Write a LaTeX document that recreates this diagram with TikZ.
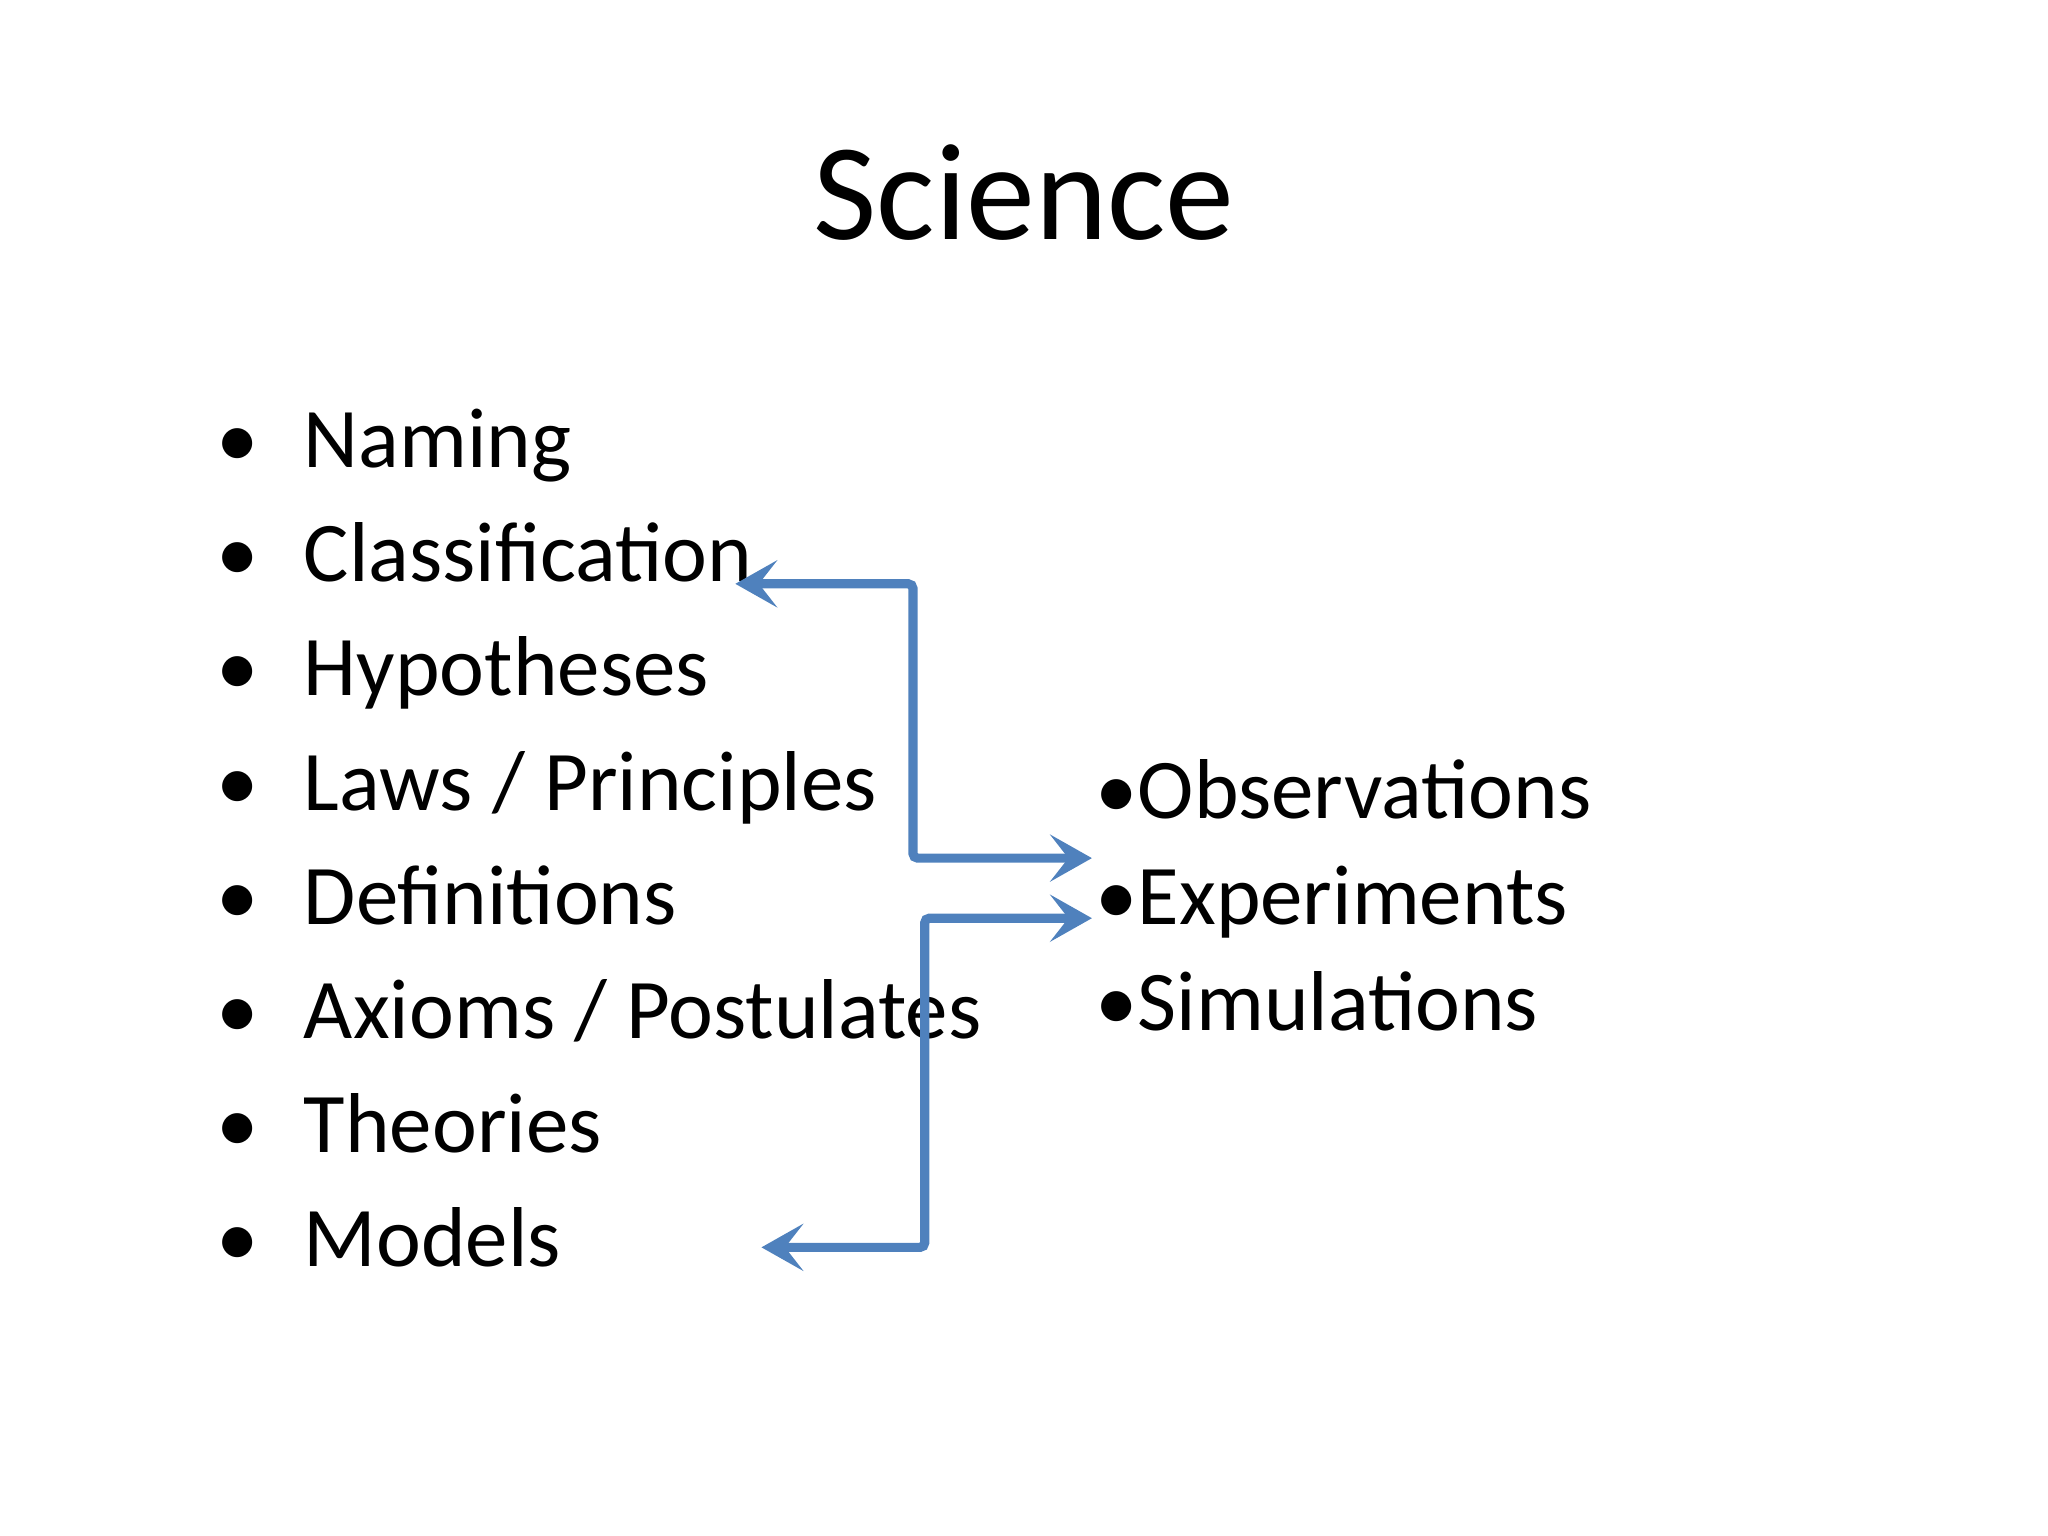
\documentclass[tikz,border=0pt]{standalone}
\usepackage{fontspec}
\setmainfont{Carlito}
\usetikzlibrary{arrows.meta}
\definecolor{arrblue}{RGB}{79,129,189}
\begin{document}
\begin{tikzpicture}[x=0.01cm,y=-0.01cm,
  item/.style={anchor=base west,inner sep=0pt,font=\fontsize{18.5}{20}\selectfont},
  bul/.style={anchor=base,inner sep=0pt,font=\fontsize{18.5}{20}\selectfont},
  conn/.style={draw=arrblue,line width=2pt,rounded corners=1pt,-{Stealth[length=0.32cm,width=0.36cm,inset=0.14cm]}}]
\useasboundingbox (0,0) rectangle (1568,1176);
\node[anchor=base,inner sep=0pt,font=\fontsize{30}{32}\selectfont] (title) at (784,183) {Science};
\foreach \t [count=\i] in {Naming,Classification,Hypotheses,Laws / Principles,Definitions,Axioms / Postulates,Theories,Models}{
  \node[bul] (b\i) at (182,358+87.4*\i-87.4) {•};
  \node[item] (l\i) at (232,358+87.4*\i-87.4) {\t};
}
\node[item] (r1) at (838,627) {•Observations};
\node[item] (r2) at (838,708) {•Experiments};
\node[item] (r3) at (838,789) {•Simulations};
\coordinate (a1s) at (563,447);
\coordinate (a1e) at (836,657);
\coordinate (a2s) at (836,703);
\coordinate (a2e) at (583,955);
\draw[conn,{Stealth[length=0.32cm,width=0.36cm,inset=0.14cm]}-{Stealth[length=0.32cm,width=0.36cm,inset=0.14cm]}] (a1s) -- (699,447) -- (699,657) -- (a1e);
\draw[conn,{Stealth[length=0.32cm,width=0.36cm,inset=0.14cm]}-{Stealth[length=0.32cm,width=0.36cm,inset=0.14cm]}] (a2s) -- (708,703) -- (708,955) -- (a2e);
\end{tikzpicture}
\end{document}
